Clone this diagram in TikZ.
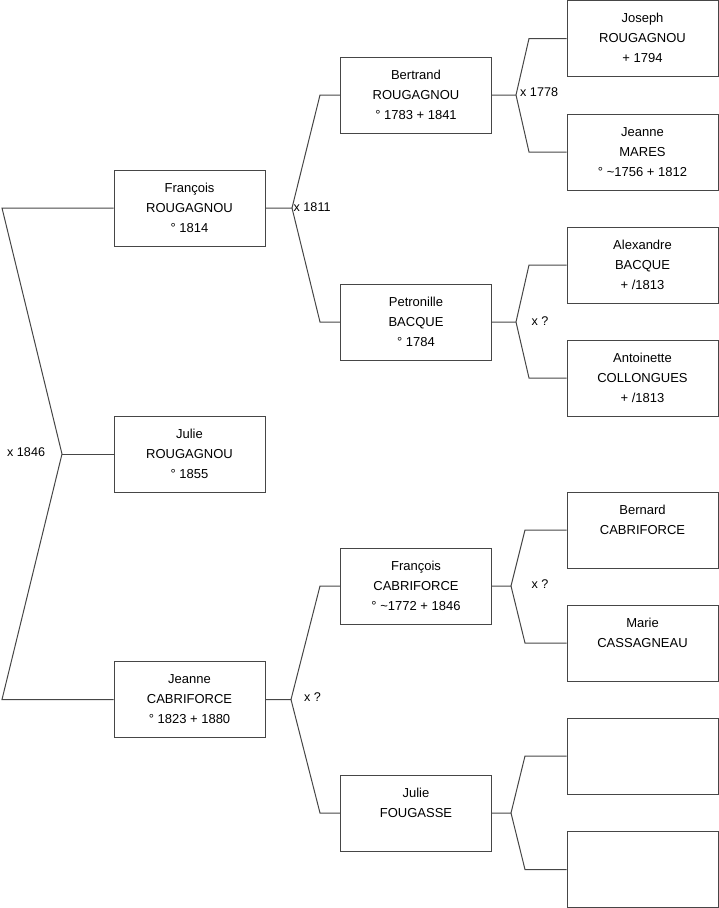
\documentclass[tikz,border=0pt]{standalone}
\usepackage{fontspec}
\setmainfont{Liberation Sans}
\definecolor{linec}{RGB}{70,70,70}
\newcommand{\ppl}[3]{\strut #1\\\strut #2\\\strut #3}
\begin{document}
\begin{tikzpicture}[x=1pt,y=-1pt,
  person/.style={draw=linec, line width=1pt, minimum width=151pt, minimum height=76pt,
    inner sep=0pt, align=center, font=\fontsize{13}{20}\selectfont, text=black},
  conn/.style={draw=linec, line width=1pt},
  lbl/.style={inner sep=0pt, font=\fontsize{12.6}{15}\selectfont, anchor=west, text=black}]
\useasboundingbox (0,0) rectangle (719,908);
% generation 1
\node[person] (francois) at (189.5,208) {\ppl{François}{ROUGAGNOU}{° 1814}};
\node[person] (julie) at (189.5,454) {\ppl{Julie}{ROUGAGNOU}{° 1855}};
\node[person] (jeanne) at (189.5,699.5) {\ppl{Jeanne}{CABRIFORCE}{° 1823 + 1880}};
% generation 2
\node[person] (bertrand) at (416,95) {\ppl{Bertrand}{ROUGAGNOU}{° 1783 + 1841}};
\node[person] (petronille) at (416,322) {\ppl{Petronille}{BACQUE}{° 1784}};
\node[person] (francoisc) at (416,586) {\ppl{François}{CABRIFORCE}{° \textasciitilde1772 + 1846}};
\node[person] (julief) at (416,813) {\ppl{Julie}{FOUGASSE}{}};
% generation 3
\node[person] (joseph) at (642.5,38.5) {\ppl{Joseph}{ROUGAGNOU}{+ 1794}};
\node[person] (jeannem) at (642.5,152) {\ppl{Jeanne}{MARES}{° \textasciitilde1756 + 1812}};
\node[person] (alexandre) at (642.5,265) {\ppl{Alexandre}{BACQUE}{+ /1813}};
\node[person] (antoinette) at (642.5,378) {\ppl{Antoinette}{COLLONGUES}{+ /1813}};
\node[person] (bernard) at (642.5,530) {\ppl{Bernard}{CABRIFORCE}{}};
\node[person] (marie) at (642.5,643) {\ppl{Marie}{CASSAGNEAU}{}};
\node[person] (empty1) at (642.5,756) {};
\node[person] (empty2) at (642.5,869.5) {};
% root bracket
\coordinate (r1) at (2,208);
\coordinate (rv) at (62,454);
\coordinate (r2) at (2,699.5);
\draw[conn] (francois.west) -- (r1) -- (rv) -- (r2) -- (jeanne.west);
\draw[conn] (rv) -- (julie.west);
\node[lbl] (m1846) at (7,452) {x 1846};
% bracket francois
\coordinate (v1) at (292,208);
\coordinate (a1) at (320,95);
\coordinate (a2) at (320,322);
\draw[conn] (francois.east) -- (v1) -- (a1) -- (bertrand.west);
\draw[conn] (v1) -- (a2) -- (petronille.west);
\node[lbl] (m1811) at (293.5,207) {x 1811};
% bracket bertrand
\coordinate (v2) at (516,95);
\coordinate (b1) at (529,38.5);
\coordinate (b2) at (529,152);
\draw[conn] (bertrand.east) -- (v2) -- (b1) -- (joseph.west);
\draw[conn] (v2) -- (b2) -- (jeannem.west);
\node[lbl] (m1778) at (520,92.5) {x 1778};
% bracket petronille
\coordinate (v3) at (516,322);
\coordinate (c1) at (529,265);
\coordinate (c2) at (529,378);
\draw[conn] (petronille.east) -- (v3) -- (c1) -- (alexandre.west);
\draw[conn] (v3) -- (c2) -- (antoinette.west);
\node[lbl] (mp) at (531.5,321) {x ?};
% bracket jeanne
\coordinate (v4) at (291,699.5);
\coordinate (d1) at (320,586);
\coordinate (d2) at (320,813);
\draw[conn] (jeanne.east) -- (v4) -- (d1) -- (francoisc.west);
\draw[conn] (v4) -- (d2) -- (julief.west);
\node[lbl] (mj) at (304,697.5) {x ?};
% bracket francois cabriforce
\coordinate (v5) at (511,586);
\coordinate (e1) at (525,530);
\coordinate (e2) at (525,643);
\draw[conn] (francoisc.east) -- (v5) -- (e1) -- (bernard.west);
\draw[conn] (v5) -- (e2) -- (marie.west);
\node[lbl] (mf) at (531.5,584) {x ?};
% bracket julie fougasse
\coordinate (v6) at (511,813);
\coordinate (f1) at (525,756);
\coordinate (f2) at (525,869.5);
\draw[conn] (julief.east) -- (v6) -- (f1) -- (empty1.west);
\draw[conn] (v6) -- (f2) -- (empty2.west);
\end{tikzpicture}
\end{document}
